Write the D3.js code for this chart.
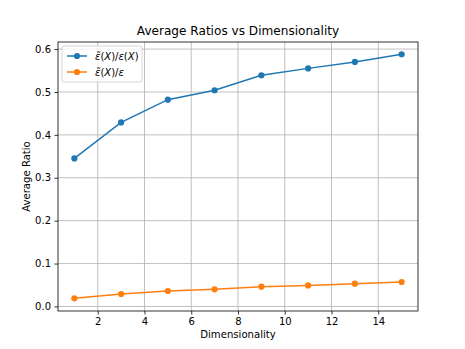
<!DOCTYPE html>
<html>
<head>
<meta charset="utf-8">
<script src="https://cdn.jsdelivr.net/npm/d3@7"></script>
<style>
  body { margin: 0; background: #fff; }
  text { font-family: "DejaVu Sans", sans-serif; fill: #000; }
</style>
</head>
<body>
<script>
//dimensions on the x axis
var dims = [1, 3, 5, 7, 9, 11, 13, 15];

//average ratio of estimate to exact value
var ratioExact = [0.345, 0.429, 0.482, 0.504, 0.539, 0.555, 0.570, 0.588];

//average ratio of estimate to epsilon
var ratioEps = [0.019, 0.029, 0.036, 0.040, 0.046, 0.049, 0.053, 0.057];

//tick labels
var xTicks = [2, 4, 6, 8, 10, 12, 14];
var yTicks = [0.0, 0.1, 0.2, 0.3, 0.4, 0.5, 0.6];

var seriesColors = ["#1f77b4", "#ff7f0e"];

makeGraph();

function makeGraph() {
    var w = 465;
    var h = 349;

    //plot area
    var left = 58, right = 418, top = 42, bottom = 311;

    var svg = d3.select("body").append("svg")
        .attr("width", w)
        .attr("height", h);

    var x = d3.scaleLinear().domain([0.3, 15.7]).range([left, right]);
    var y = d3.scaleLinear().domain([-0.0106, 0.6165]).range([bottom, top]);

    //grid lines
    svg.append("g").selectAll("line")
        .data(xTicks)
        .enter().append("line")
        .attr("x1", function(d) { return x(d); })
        .attr("x2", function(d) { return x(d); })
        .attr("y1", top).attr("y2", bottom)
        .attr("stroke", "#b0b0b0").attr("stroke-width", 0.8);
    svg.append("g").selectAll("line")
        .data(yTicks)
        .enter().append("line")
        .attr("y1", function(d) { return y(d); })
        .attr("y2", function(d) { return y(d); })
        .attr("x1", left).attr("x2", right)
        .attr("stroke", "#b0b0b0").attr("stroke-width", 0.8);

    //axes
    var xAxis = d3.axisBottom(x).tickValues(xTicks).tickSize(3.5).tickPadding(3.5)
        .tickFormat(d3.format("d"));
    var yAxis = d3.axisLeft(y).tickValues(yTicks).tickSize(3.5).tickPadding(3.5)
        .tickFormat(d3.format(".1f"));

    var gx = svg.append("g").attr("transform", "translate(0," + bottom + ")").call(xAxis);
    var gy = svg.append("g").attr("transform", "translate(" + left + ",0)").call(yAxis);
    [gx, gy].forEach(function(g) {
        g.select(".domain").remove();
        g.selectAll("text").attr("font-size", 10).attr("font-family", "DejaVu Sans").attr("fill", "#000");
        g.selectAll("line").attr("stroke", "#000").attr("stroke-width", 0.8);
    });

    //frame
    svg.append("rect")
        .attr("x", left).attr("y", top)
        .attr("width", right - left).attr("height", bottom - top)
        .attr("fill", "none").attr("stroke", "#000").attr("stroke-width", 0.8);

    //lines and markers
    var all = [ratioExact, ratioEps];
    var line = d3.line()
        .x(function(d, i) { return x(dims[i]); })
        .y(function(d) { return y(d); });

    for (var s = 0; s < all.length; s++) {
        svg.append("path")
            .attr("d", line(all[s]))
            .attr("fill", "none")
            .attr("stroke", seriesColors[s])
            .attr("stroke-width", 1.5);
        svg.append("g").selectAll("circle")
            .data(all[s])
            .enter().append("circle")
            .attr("cx", function(d, i) { return x(dims[i]); })
            .attr("cy", function(d) { return y(d); })
            .attr("r", 3.1)
            .attr("fill", seriesColors[s]);
    }

    //title and labels
    svg.append("text")
        .attr("x", (left + right) / 2).attr("y", 35)
        .attr("text-anchor", "middle").attr("font-size", 12.1)
        .text("Average Ratios vs Dimensionality");
    svg.append("text")
        .attr("x", (left + right) / 2).attr("y", 338)
        .attr("text-anchor", "middle").attr("font-size", 10.1)
        .text("Dimensionality");
    svg.append("text")
        .attr("transform", "translate(30," + ((top + bottom) / 2) + ") rotate(-90)")
        .attr("text-anchor", "middle").attr("font-size", 10.1)
        .text("Average Ratio");

    //legend
    var lg = svg.append("g");
    lg.append("rect")
        .attr("x", 62).attr("y", 46).attr("width", 80).attr("height", 36)
        .attr("rx", 2)
        .attr("fill", "#fff").attr("fill-opacity", 0.8)
        .attr("stroke", "#cccccc").attr("stroke-width", 0.8);

    var legendParts = [
        [["ε\u0303", true], ["(", false], ["X", true], [")/", false], ["ε", true], ["(", false], ["X", true], [")", false]],
        [["ε\u0303", true], ["(", false], ["X", true], [")/", false], ["ε", true]]
    ];
    for (var k = 0; k < legendParts.length; k++) {
        var ly = 56 + k * 16;
        lg.append("line")
            .attr("x1", 67).attr("x2", 87).attr("y1", ly).attr("y2", ly)
            .attr("stroke", seriesColors[k]).attr("stroke-width", 1.5);
        lg.append("circle")
            .attr("cx", 77).attr("cy", ly).attr("r", 3.1)
            .attr("fill", seriesColors[k]);
        var t = lg.append("text")
            .attr("x", 95).attr("y", ly + 3.5)
            .attr("font-size", 10);
        legendParts[k].forEach(function(p) {
            t.append("tspan")
                .attr("font-style", p[1] ? "italic" : "normal")
                .text(p[0]);
        });
    }
}
</script>
</body>
</html>
